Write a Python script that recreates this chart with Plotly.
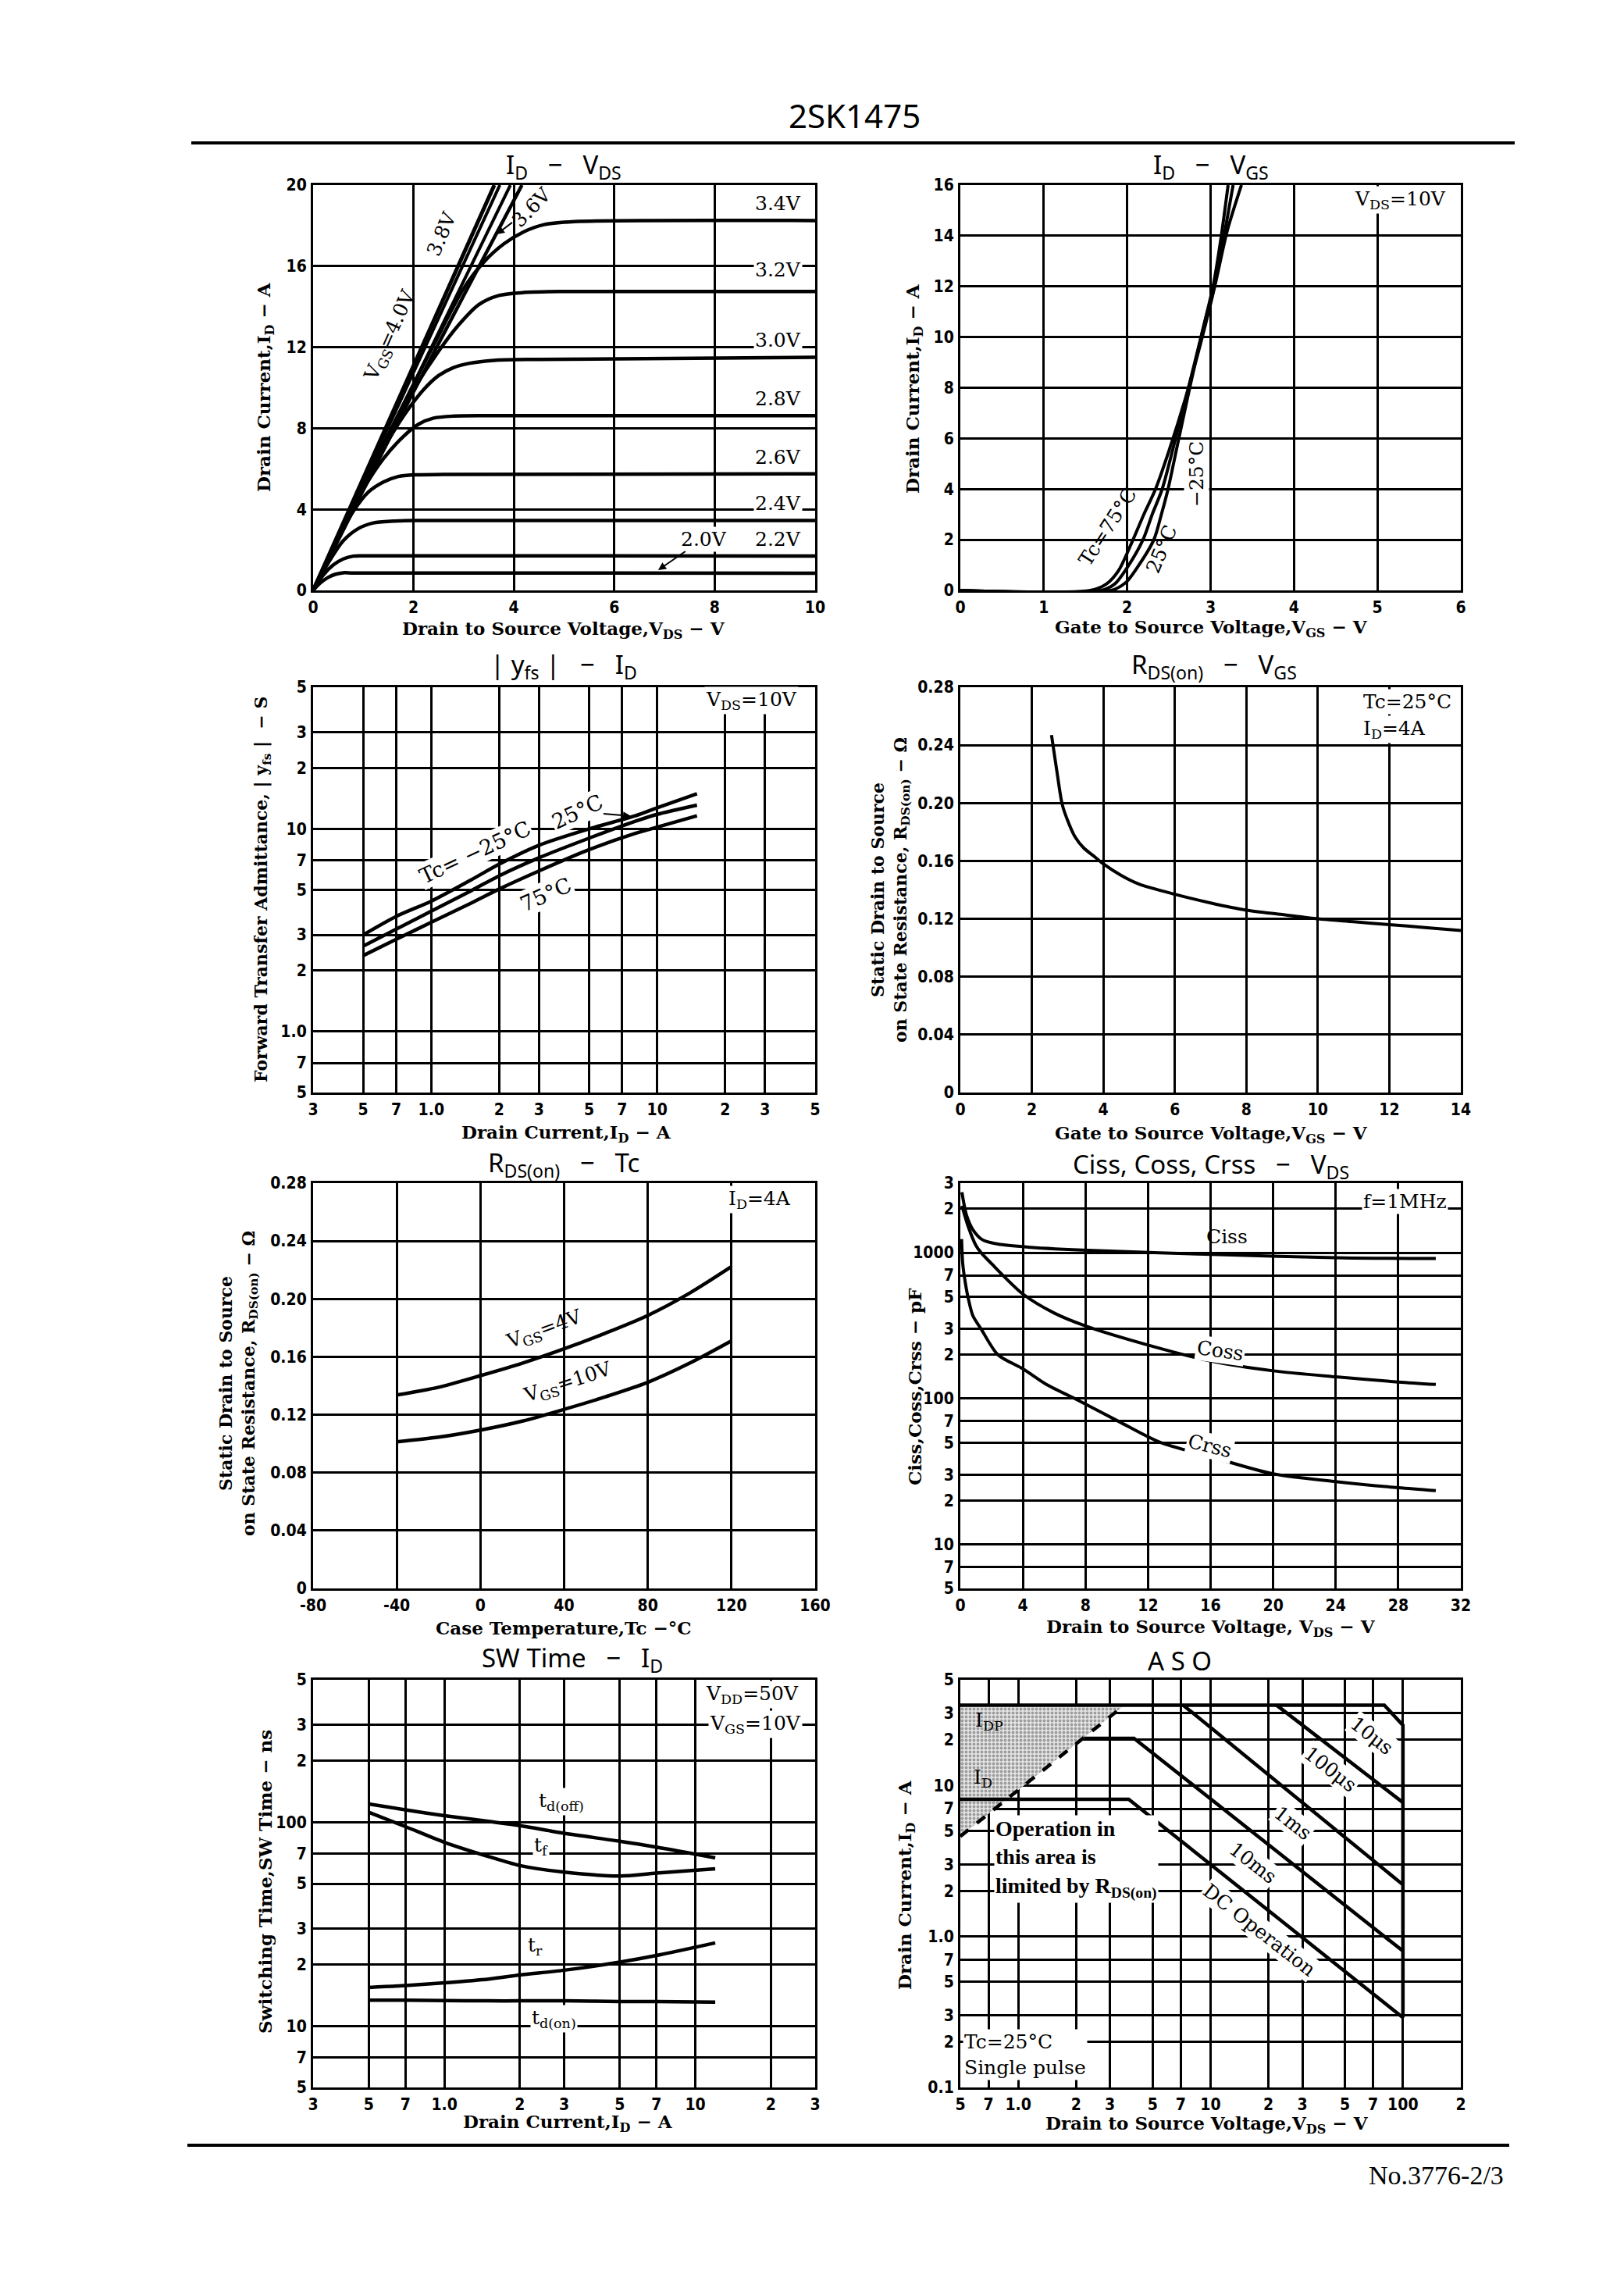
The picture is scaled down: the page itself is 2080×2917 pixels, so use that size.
import plotly.graph_objects as go
import math

W, H = 2080, 2917

# ================= DATA =================
# Panel 1 : ID - VDS  (VDS [V], ID [A]) per VGS
p1_vds_20 = [0, 0.15, 0.3, 0.45, 0.6, 0.8, 10]
p1_id_20 = [0, 0.38, 0.64, 0.8, 0.87, 0.86, 0.85]
p1_vds_22 = [0, 0.2, 0.4, 0.6, 0.8, 1.0, 10]
p1_id_22 = [0, 0.75, 1.25, 1.55, 1.69, 1.71, 1.7]
p1_vds_24 = [0, 0.3, 0.6, 0.9, 1.2, 1.6, 2.0, 10]
p1_id_24 = [0, 1.35, 2.45, 3.05, 3.33, 3.42, 3.45, 3.45]
p1_vds_26 = [0, 0.4, 0.8, 1.1, 1.4, 1.7, 2.0, 2.6, 10]
p1_id_26 = [0, 2.1, 3.9, 4.85, 5.35, 5.62, 5.7, 5.72, 5.75]
p1_vds_28 = [0, 0.5, 1.0, 1.4, 1.8, 2.1, 2.4, 2.8, 3.5, 10]
p1_id_28 = [0, 2.6, 5.0, 6.5, 7.6, 8.2, 8.5, 8.6, 8.62, 8.62]
p1_vds_30 = [0, 0.6, 1.2, 1.8, 2.2, 2.5, 2.8, 3.1, 3.6, 4.5, 10]
p1_id_30 = [0, 3.1, 6.1, 8.6, 9.9, 10.6, 11.0, 11.2, 11.35, 11.4, 11.5]
p1_vds_32 = [0, 0.7, 1.4, 2.0, 2.5, 2.9, 3.3, 3.7, 4.2, 5.0, 10]
p1_id_32 = [0, 3.6, 7.2, 9.9, 11.8, 13.1, 14.1, 14.55, 14.7, 14.75, 14.75]
p1_vds_34 = [0, 0.8, 1.6, 2.4, 3.0, 3.4, 3.8, 4.2, 4.6, 5.2, 10]
p1_id_34 = [0, 4.1, 8.2, 12.1, 14.9, 16.2, 17.1, 17.7, 18.05, 18.2, 18.25]
p1_vds_36 = [0, 1.0, 2.0, 3.0, 4.16]
p1_id_36 = [0, 4.95, 9.8, 14.55, 20]
p1_vds_38 = [0, 3.93]
p1_id_38 = [0, 20]
p1_vds_40b = [0, 3.72]
p1_id_40b = [0, 20]
p1_vds_40 = [0, 3.61]
p1_id_40 = [0, 20]

# Panel 2 : ID - VGS (VDS = 10 V)
p2_vgs_75 = [0, 1.56, 1.75, 1.9, 2.07, 2.2, 2.34, 2.5, 2.7, 2.9, 3.05, 3.2, 3.37]
p2_id_75 = [0, 0, 0.25, 0.8, 2.0, 3.0, 4.0, 5.5, 7.6, 10.0, 12.0, 14.2, 16]
p2_vgs_25 = [0, 1.69, 1.85, 2.0, 2.19, 2.3, 2.42, 2.55, 2.72, 2.9, 3.04, 3.15, 3.27]
p2_id_25 = [0, 0, 0.25, 0.9, 2.0, 3.0, 4.0, 5.6, 7.8, 10.2, 12.0, 13.8, 16]
p2_vgs_m25 = [0, 1.81, 1.98, 2.12, 2.32, 2.41, 2.49, 2.6, 2.75, 2.9, 3.03, 3.12, 3.21]
p2_id_m25 = [0, 0, 0.3, 0.9, 2.0, 3.0, 4.0, 5.7, 8.0, 10.2, 12.0, 13.8, 16]

# Panel 3 : |yfs| - ID (VDS = 10 V)
p3_id = [0.5, 0.7, 1.0, 1.5, 2, 3, 5, 8, 10, 15]
p3_yfs_m25 = [3.0, 3.7, 4.4, 5.6, 6.7, 8.3, 10.0, 11.6, 12.7, 14.9]
p3_yfs_25 = [2.64, 3.2, 3.93, 4.95, 5.87, 7.2, 9.0, 10.9, 11.8, 13.1]
p3_yfs_75 = [2.37, 2.85, 3.46, 4.3, 5.05, 6.2, 7.9, 9.5, 10.2, 11.6]

# Panel 4 : RDS(on) - VGS (Tc = 25C, ID = 4 A)
p4_vgs = [2.55, 2.7, 2.85, 3.0, 3.2, 3.45, 3.75, 4.0, 4.5, 5.0, 6.0, 7.0, 8.0, 9.0, 10.0, 11.0, 12.0, 13.0, 14.0]
p4_rds = [0.247, 0.222, 0.199, 0.188, 0.177, 0.169, 0.163, 0.158, 0.150, 0.144, 0.137, 0.131,
          0.126, 0.123, 0.120, 0.118, 0.116, 0.114, 0.112]

# Panel 5 : RDS(on) - Tc (ID = 4 A)
p5_tc = [-40, -20, 0, 20, 40, 60, 80, 100, 120]
p5_rds_4v = [0.1336, 0.139, 0.147, 0.1556, 0.1655, 0.1765, 0.1886, 0.204, 0.2223]
p5_rds_10v = [0.1013, 0.1045, 0.1094, 0.1156, 0.1237, 0.1325, 0.1424, 0.1556, 0.171]

# Panel 6 : Ciss, Coss, Crss - VDS (f = 1 MHz)
p6_v_ciss = [0.1, 0.4, 0.8, 1.4, 2.4, 4.5, 8.5, 16.5, 24.5, 30.4]
p6_ciss = [2600, 1800, 1440, 1230, 1146, 1090, 1036, 970, 922, 913]
p6_v_coss = [0.1, 0.5, 1.0, 1.33, 2.0, 4.0, 6.0, 8.0, 12, 16, 20, 24, 28, 30.4]
p6_coss = [2100, 1514, 1120, 1000, 840, 521, 386, 315, 233, 181, 155, 141, 130, 125]
p6_v_crss = [0.08, 0.15, 0.3, 0.5, 0.8, 1.33, 2.4, 4.0, 5.5, 7.33, 10.1, 12.8, 16, 20, 24, 28, 30.4]
p6_crss = [1240, 850, 640, 490, 370, 300, 200, 160, 125, 100, 70, 50, 40, 30.5, 27, 24.5, 23.4]

# Panel 7 : SW Time - ID (VDD = 50 V, VGS = 10 V)
p7_id = [0.5, 0.7, 1.0, 1.5, 2, 3, 5, 7, 12]
p7_tdoff = [123, 115, 107.8, 101, 96.3, 88.3, 80.7, 75.5, 66.9]
p7_tf = [111.9, 95.2, 79.8, 67.9, 61.3, 56.9, 54.5, 56.3, 59.1]
p7_tr = [15.46, 15.8, 16.3, 17.0, 17.8, 18.8, 20.6, 22.2, 25.6]
p7_tdon = [13.4, 13.4, 13.35, 13.3, 13.3, 13.3, 13.2, 13.2, 13.1]

# Panel 8 : ASO (Tc = 25C, single pulse)
p8_v_10us = [0.5, 80, 100, 100]
p8_i_10us = [34, 34, 25, 0.29]
p8_v_100us = [22, 100]
p8_i_100us = [34, 7.7]
p8_v_1ms = [7.2, 100]
p8_i_1ms = [34, 2.2]
p8_v_10ms = [2.2, 4.0, 100]
p8_i_10ms = [20.5, 20.5, 0.8]
p8_v_dc = [0.5, 3.75, 100]
p8_i_dc = [8.1, 8.1, 0.29]
p8_v_rds = [0.5, 3.57]
p8_i_rds = [4.6, 34]
p8_v_area = [0.5, 3.57, 0.5]
p8_i_area = [34, 34, 4.6]

# tick labels
p3_xt = [0.3, 0.5, 0.7, 1, 2, 3, 5, 7, 10, 20, 30, 50]
p3_xl = ['3', '5', '7', '1.0', '2', '3', '5', '7', '10', '2', '3', '5']
p3_yt = [0.5, 0.7, 1, 2, 3, 5, 7, 10, 20, 30, 50]
p3_yl = ['5', '7', '1.0', '2', '3', '5', '7', '10', '2', '3', '5']
p6_yt = [5, 7, 10, 20, 30, 50, 70, 100, 200, 300, 500, 700, 1000, 2000, 3000]
p6_yl = ['5', '7', '10', '2', '3', '5', '7', '100', '2', '3', '5', '7', '1000', '2', '3']
p7_xt = [0.3, 0.5, 0.7, 1, 2, 3, 5, 7, 10, 20, 30]
p7_xl = ['3', '5', '7', '1.0', '2', '3', '5', '7', '10', '2', '3']
p7_yt = [5, 7, 10, 20, 30, 50, 70, 100, 200, 300, 500]
p7_yl = ['5', '7', '10', '2', '3', '5', '7', '100', '2', '3', '5']
p8_xt = [0.5, 0.7, 1, 2, 3, 5, 7, 10, 20, 30, 50, 70, 100, 200]
p8_xl = ['5', '7', '1.0', '2', '3', '5', '7', '10', '2', '3', '5', '7', '100', '2']
p8_yt = [0.1, 0.2, 0.3, 0.5, 0.7, 1, 2, 3, 5, 7, 10, 20, 30, 50]
p8_yl = ['0.1', '2', '3', '5', '7', '1.0', '2', '3', '5', '7', '10', '2', '3', '5']
rds_yt = [0, 0.04, 0.08, 0.12, 0.16, 0.20, 0.24, 0.28]
rds_yl = ['0', '0.04', '0.08', '0.12', '0.16', '0.20', '0.24', '0.28']

# ================= STYLE =================
SERIF = "DejaVu Serif, Liberation Serif, serif"
LSERIF = "Liberation Serif, DejaVu Serif, serif"
SANS = "Noto Sans, Open Sans, DejaVu Sans, sans-serif"
TICKF = "DejaVu Sans Condensed, Liberation Sans Narrow, DejaVu Sans, sans-serif"
TICK = dict(family=TICKF, size=21, color='black', weight='bold')

LX = (401, 1044)
RX = (1230, 1871)
ROWS = [(237, 756), (880, 1399), (1515, 2034), (2151, 2673)]


def xd(c):
    return [c[0] / W, c[1] / W]


def yd(r):
    return [1 - r[1] / H, 1 - r[0] / H]


def axis(domain, rng, anchor, typ='linear', tv=None, tt=None):
    return dict(domain=domain, range=rng, type=typ, anchor=anchor, automargin=False,
                showline=True, mirror=True, linecolor='black', linewidth=3,
                showgrid=True, gridcolor='black', gridwidth=2.5, zeroline=False,
                ticks='', tickfont=TICK, tickmode='array', tickvals=tv, ticktext=tt,
                ticklabelstandoff=1, fixedrange=True)


L = math.log10
layout_axes = {}
specs = [
    (LX, 0, [0, 10], 'linear', [0, 2, 4, 6, 8, 10], ['0', '2', '4', '6', '8', '10'],
     [0, 20], 'linear', [0, 4, 8, 12, 16, 20], ['0', '4', '8', '12', '16', '20']),
    (RX, 0, [0, 6], 'linear', [0, 1, 2, 3, 4, 5, 6], ['0', '1', '2', '3', '4', '5', '6'],
     [0, 16], 'linear', [0, 2, 4, 6, 8, 10, 12, 14, 16], ['0', '2', '4', '6', '8', '10', '12', '14', '16']),
    (LX, 1, [L(0.3), L(50)], 'log', p3_xt, p3_xl, [L(0.5), L(50)], 'log', p3_yt, p3_yl),
    (RX, 1, [0, 14], 'linear', [0, 2, 4, 6, 8, 10, 12, 14], ['0', '2', '4', '6', '8', '10', '12', '14'],
     [0, 0.28], 'linear', rds_yt, rds_yl),
    (LX, 2, [-80, 160], 'linear', [-80, -40, 0, 40, 80, 120, 160], ['-80', '-40', '0', '40', '80', '120', '160'],
     [0, 0.28], 'linear', rds_yt, rds_yl),
    (RX, 2, [0, 32], 'linear', [0, 4, 8, 12, 16, 20, 24, 28, 32], ['0', '4', '8', '12', '16', '20', '24', '28', '32'],
     [L(5), L(3000)], 'log', p6_yt, p6_yl),
    (LX, 3, [L(0.3), L(30)], 'log', p7_xt, p7_xl, [L(5), L(500)], 'log', p7_yt, p7_yl),
    (RX, 3, [L(0.5), L(200)], 'log', p8_xt, p8_xl, [L(0.1), L(50)], 'log', p8_yt, p8_yl),
]
for i, (col, row, xr, xt_, xtv, xtt, yr, yt_, ytv, ytt) in enumerate(specs, start=1):
    s = '' if i == 1 else str(i)
    layout_axes['xaxis' + s] = axis(xd(col), xr, 'y' + s, xt_, xtv, xtt)
    layout_axes['yaxis' + s] = axis(yd(ROWS[row]), yr, 'x' + s, yt_, ytv, ytt)

fig = go.Figure()


def line(x, y, k, w=4.5, shape='spline', dash='solid'):
    s = '' if k == 1 else str(k)
    fig.add_trace(go.Scatter(x=x, y=y, xaxis='x' + s, yaxis='y' + s, mode='lines',
                             line=dict(color='black', width=w, shape=shape, smoothing=0.8, dash=dash),
                             hoverinfo='skip', showlegend=False))


# Panel 1
for xv, yv in [(p1_vds_20, p1_id_20), (p1_vds_22, p1_id_22), (p1_vds_24, p1_id_24), (p1_vds_26, p1_id_26),
               (p1_vds_28, p1_id_28), (p1_vds_30, p1_id_30), (p1_vds_32, p1_id_32), (p1_vds_34, p1_id_34),
               (p1_vds_36, p1_id_36)]:
    line(xv, yv, 1, 4.5)
line(p1_vds_38, p1_id_38, 1, 4, 'linear')
line(p1_vds_40b, p1_id_40b, 1, 4, 'linear')
line(p1_vds_40, p1_id_40, 1, 5, 'linear')
# Panel 2
for xv, yv in [(p2_vgs_75, p2_id_75), (p2_vgs_25, p2_id_25), (p2_vgs_m25, p2_id_m25)]:
    line(xv, yv, 2, 4)
# Panel 3
for yv in [p3_yfs_m25, p3_yfs_25, p3_yfs_75]:
    line(p3_id, yv, 3, 4.5)
# Panel 4
line(p4_vgs, p4_rds, 4, 4)
# Panel 5
line(p5_tc, p5_rds_4v, 5, 4.5)
line(p5_tc, p5_rds_10v, 5, 4.5)
# Panel 6
line(p6_v_ciss, p6_ciss, 6, 4)
line(p6_v_coss, p6_coss, 6, 4)
line(p6_v_crss, p6_crss, 6, 4)
# Panel 7
for yv in [p7_tdoff, p7_tf, p7_tr, p7_tdon]:
    line(p7_id, yv, 7, 4.5)
# Panel 8
fig.add_trace(go.Scatter(x=p8_v_area, y=p8_i_area, xaxis='x8', yaxis='y8', mode='none', fill='toself',
                         fillcolor='rgba(200,200,200,0.7)',
                         fillpattern=dict(shape='.', fgcolor='#555555', bgcolor='#e4e4e4', size=5, solidity=0.45),
                         hoverinfo='skip', showlegend=False))
line(p8_v_10us, p8_i_10us, 8, 4.5, 'linear')
line(p8_v_100us, p8_i_100us, 8, 4.5, 'linear')
line(p8_v_1ms, p8_i_1ms, 8, 4.5, 'linear')
line(p8_v_10ms, p8_i_10ms, 8, 4.5, 'linear')
line(p8_v_dc, p8_i_dc, 8, 4.5, 'linear')
line(p8_v_rds, p8_i_rds, 8, 4.5, 'linear', 'dash')

# ================= TEXT =================
ann = []


def P(x, y):
    return x / W, 1 - y / H


def txt(text, x, y, size=25, font=SERIF, angle=0, xa='center', ya='middle', bg=None, weight='normal',
        align='center'):
    px_, py_ = P(x, y)
    a = dict(text=text, x=px_, y=py_, xref='paper', yref='paper', showarrow=False, textangle=angle,
             xanchor=xa, yanchor=ya, align=align,
             font=dict(family=font, size=size, color='black', weight=weight))
    if bg:
        a['bgcolor'] = bg
    ann.append(a)


def arrow(text, hx, hy, tx, ty, size=25, angle=0, bg=None):
    px_, py_ = P(hx, hy)
    a = dict(text=text, x=px_, y=py_, xref='paper', yref='paper', showarrow=True, ax=tx - hx, ay=ty - hy,
             arrowhead=2, arrowsize=1, arrowwidth=2, arrowcolor='black', textangle=angle,
             font=dict(family=SERIF, size=size, color='black'))
    if bg:
        a['bgcolor'] = bg
    ann.append(a)


# header / footer
txt('2SK1475', 1094, 147, size=42, font=SANS)
txt('No.3776-2/3', 1928, 2785, size=34, font=LSERIF, xa='right')

# panel titles
TS = 33
txt('I<sub>D</sub>   −   V<sub>DS</sub>', 722, 212, TS, SANS)
txt('I<sub>D</sub>   −   V<sub>GS</sub>', 1551, 212, TS, SANS)
txt('| y<sub>fs</sub> |   −   I<sub>D</sub>', 722, 852, TS, SANS)
txt('R<sub>DS(on)</sub>   −   V<sub>GS</sub>', 1555, 852, TS, SANS)
txt('R<sub>DS(on)</sub>   −   Tc', 722, 1490, TS, SANS)
txt('Ciss, Coss, Crss   −   V<sub>DS</sub>', 1551, 1492, TS, SANS)
txt('SW Time   −   I<sub>D</sub>', 733, 2124, TS, SANS)
txt('A S O', 1511, 2126, TS, SANS)

# axis titles
AT = 23
txt('Drain to Source Voltage,V<sub>DS</sub> − V', 722, 806, AT, weight='bold')
txt('Gate to Source Voltage,V<sub>GS</sub> − V', 1551, 804, AT, weight='bold')
txt('Drain Current,I<sub>D</sub> − A', 725, 1451, AT, weight='bold')
txt('Gate to Source Voltage,V<sub>GS</sub> − V', 1551, 1452, AT, weight='bold')
txt('Case Temperature,Tc −°C', 722, 2084, AT, weight='bold')
txt('Drain to Source Voltage, V<sub>DS</sub> − V', 1551, 2084, AT, weight='bold')
txt('Drain Current,I<sub>D</sub> − A', 727, 2718, AT, weight='bold')
txt('Drain to Source Voltage,V<sub>DS</sub> − V', 1546, 2720, AT, weight='bold')

txt('Drain Current,I<sub>D</sub> − A', 339, 496, AT, angle=-90, weight='bold')
txt('Drain Current,I<sub>D</sub> − A', 1171, 498, AT, angle=-90, weight='bold')
txt('Forward Transfer Admittance, | y<sub>fs</sub> |  − S', 336, 1139, 22, angle=-90, weight='bold')
txt('Static Drain to Source<br>on State Resistance, R<sub>DS(on)</sub> − Ω', 1140, 1140, 22, angle=-90,
    weight='bold')
txt('Static Drain to Source<br>on State Resistance, R<sub>DS(on)</sub> − Ω', 305, 1772, 22, angle=-90,
    weight='bold')
txt('Ciss,Coss,Crss − pF', 1171, 1776, AT, angle=-90, weight='bold')
txt('Switching Time,SW Time − ns', 339, 2410, AT, angle=-90, weight='bold')
txt('Drain Current,I<sub>D</sub> − A', 1160, 2414, AT, angle=-90, weight='bold')

# Panel 1 labels
LS = 25
txt('V<sub>GS</sub>=4.0V', 500, 430, LS, angle=-66)
txt('3.8V', 566, 300, LS, angle=-67)
arrow('3.6V', 636, 300, 681, 266, LS, angle=-46)
for t, yy in [('3.4V', 260), ('3.2V', 345), ('3.0V', 435), ('2.8V', 511), ('2.6V', 586), ('2.4V', 645),
              ('2.2V', 690)]:
    txt(t, 996, yy, LS, bg='white')
arrow('2.0V', 843, 730, 901, 690, LS, bg='white')

# Panel 2 labels
txt('V<sub>DS</sub>=10V', 1793, 256, LS, bg='white')
txt('Tc=75°C', 1418, 675, LS, angle=-57)
txt('25°C', 1488, 704, LS, angle=-67)
txt('−25°C', 1532, 607, LS, angle=-90, bg='white')

# Panel 3 labels
txt('V<sub>DS</sub>=10V', 962, 897, LS, bg='white')
txt('Tc= −25°C', 608, 1092, 27, angle=-25, bg='white')
arrow('25°C', 808, 1045, 739, 1039, 27, angle=-25, bg='white')
txt('75°C', 699, 1146, 27, angle=-24, bg='white')

# Panel 4 labels
txt('Tc=25°C', 1744, 898, LS, xa='left', bg='white')
txt('I<sub>D</sub>=4A', 1744, 934, LS, xa='left', bg='white')

# Panel 5 labels
txt('I<sub>D</sub>=4A', 931, 1536, LS, xa='left', bg='white')
txt('V<sub>GS</sub>=4V', 697, 1703, LS, angle=-20)
txt('V<sub>GS</sub>=10V', 727, 1771, LS, angle=-18)

# Panel 6 labels
txt('f=1MHz', 1744, 1538, LS, xa='left', bg='white')
txt('Ciss', 1571, 1583, LS)
txt('Coss', 1563, 1729, LS, angle=8, bg='white')
txt('Crss', 1549, 1852, LS, angle=14, bg='white')

# Panel 7 labels
txt('V<sub>DD</sub>=50V', 963, 2170, LS, bg='white')
txt('V<sub>GS</sub>=10V', 967, 2208, LS, bg='white')
txt('t<sub>d(off)</sub>', 719, 2307, LS, bg='white')
txt('t<sub>f</sub>', 693, 2364, LS, bg='white')
txt('t<sub>r</sub>', 685, 2492, LS, bg='white')
txt('t<sub>d(on)</sub>', 709, 2585, LS, bg='white')

# Panel 8 labels
txt('I<sub>DP</sub>', 1267, 2204, LS)
txt('I<sub>D</sub>', 1259, 2277, LS)
txt('Operation in<br>this area is<br>limited by R<sub>DS(on)</sub>', 1273, 2380, 28, font=LSERIF, xa='left',
    bg='white', weight='bold', align='left')
txt('10μs', 1757, 2222, LS, angle=38, bg='white')
txt('100μs', 1704, 2265, LS, angle=38, bg='white')
txt('1ms', 1656, 2334, LS, angle=38, bg='white')
txt('10ms', 1605, 2385, LS, angle=38, bg='white')
txt('DC Operation', 1613, 2471, LS, angle=38, bg='white')
txt('Tc=25°C<br>Single pulse', 1233, 2631, LS, xa='left', bg='white', align='left')

shapes = [
    dict(type='line', xref='paper', yref='paper', x0=245 / W, x1=1940 / W, y0=1 - 183 / H, y1=1 - 183 / H,
         line=dict(color='black', width=4)),
    dict(type='line', xref='paper', yref='paper', x0=240 / W, x1=1933 / W, y0=1 - 2747 / H, y1=1 - 2747 / H,
         line=dict(color='black', width=4)),
]

fig.update_layout(width=W, height=H, margin=dict(l=0, r=0, t=0, b=0, pad=0, autoexpand=False),
                  paper_bgcolor='white', plot_bgcolor='white', showlegend=False,
                  annotations=ann, shapes=shapes, **layout_axes)
fig.write_html("out.html", config={'displayModeBar': False},
               post_script="document.body.style.margin='0';document.body.style.padding='0';"
                           "document.body.style.overflow='hidden';")
